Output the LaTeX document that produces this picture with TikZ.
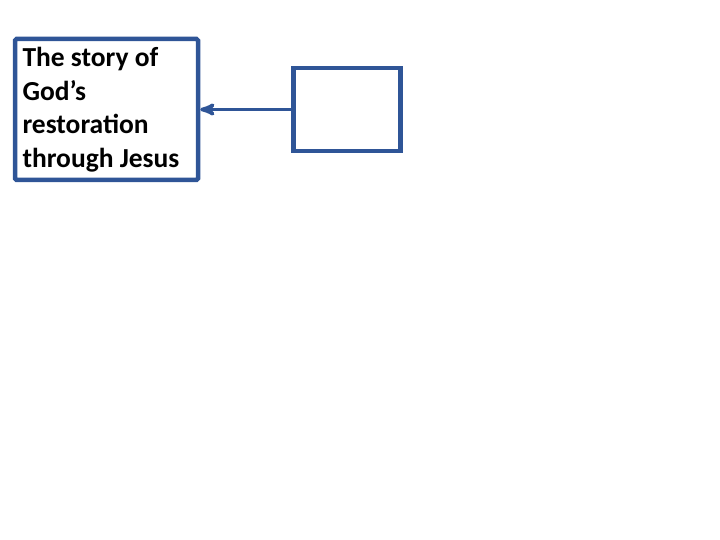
\documentclass[tikz,border=0pt]{standalone}
\usepackage{fontspec}
\setmainfont{Carlito}
\usepackage{xcolor}
\usepackage{tikz}
\usetikzlibrary{arrows,positioning}

\definecolor{slideblue}{RGB}{47,85,151}

\begin{document}
\begin{tikzpicture}[x=1pt,y=1pt,->,>=stealth',semithick]
\tikzstyle{every node}=[font=\bfseries\fontsize{27.5}{33.5}\selectfont]
\tikzstyle{storybox}=[draw=slideblue,line width=4.5pt,rounded corners=1.5pt,
                      minimum width=183pt,minimum height=141pt,
                      text width=168pt,align=flush left,inner sep=0pt]
\tikzstyle{emptybox}=[draw=slideblue,line width=4.5pt,
                      minimum width=107pt,minimum height=83pt,inner sep=0pt]
\useasboundingbox (0,0) rectangle (720,-540);
\node[storybox] (STORY) at (106.5,-109.5) {The story of\\God’s\\restoration\\through Jesus};
\node[emptybox] (BLANK) [right=91pt of STORY] {};

\path (BLANK) edge[draw=slideblue,line width=3.5pt] (STORY);
\end{tikzpicture}
\end{document}
